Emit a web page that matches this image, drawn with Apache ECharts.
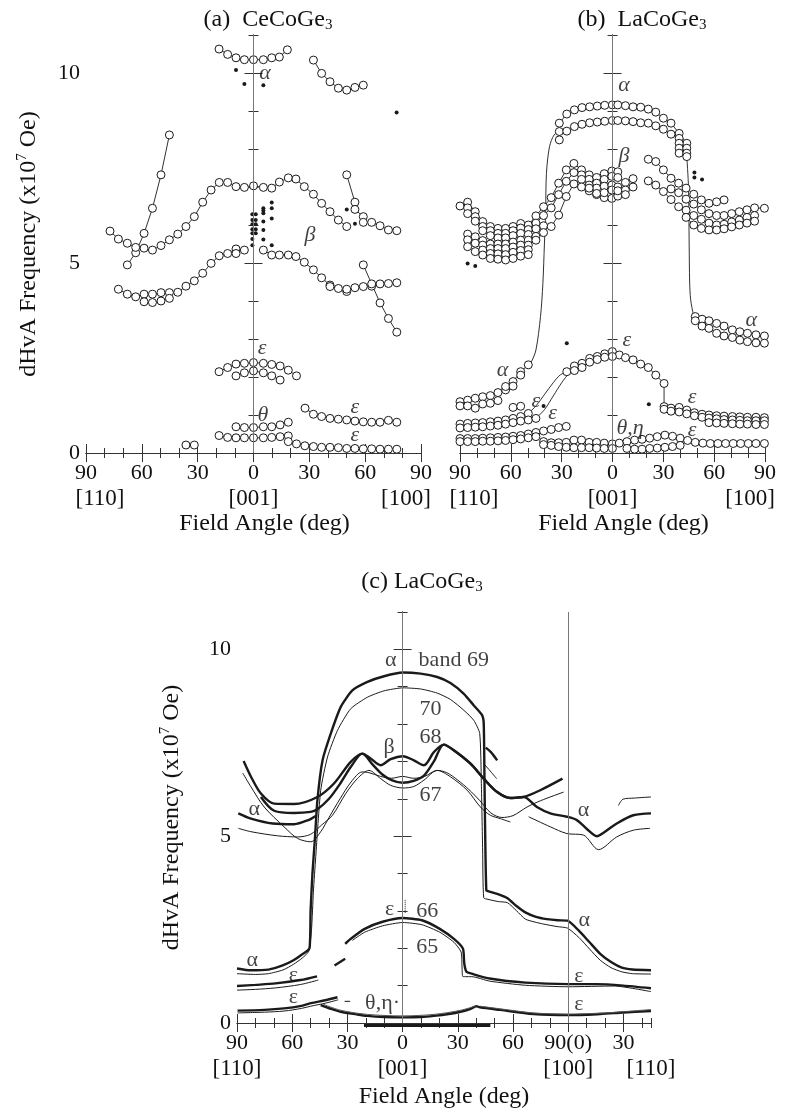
<!DOCTYPE html>
<html><head><meta charset="utf-8">
<script src="https://cdn.jsdelivr.net/npm/echarts@6/dist/echarts.min.js"></script>
<style>html,body{margin:0;padding:0;background:#fff}#c{width:808px;height:1113px}</style>
</head><body><div id="c"></div>
<script>
// ---------------- tick labels ----------------
const abTickVals = [-90,-60,-30,0,30,60,90];
const abTickText = ['90','60','30','0','30','60','90'];
const abDirText  = ['[110]','','','[001]','','','[100]'];
const cTickVals  = [-90,-60,-30,0,30,60,90,120];
const cTickText  = ['90','60','30','0','30','60','90(0)','30'];
const cDirText   = ['[110]','','','[001]','','','[100]',''];
const cEndVals   = [135];
const cEndText   = [' '];
const cEndDir    = ['[110]'];
const yTickVals  = [0,5,10];

// ---------------- panel (a) CeCoGe3 ----------------
const aAlphaTop = [[-18.5,10.63],[-13.9,10.49],[-9.4,10.40],[-4.9,10.35],[0,10.35],[5.3,10.35],[9.8,10.40],[13.9,10.42],[18.2,10.61]];
const aAlphaRight = [[32.2,10.34],[36.6,9.99],[41.1,9.77],[45.6,9.6],[50.1,9.55],[54.5,9.62],[59.0,9.68]];
const aSteep = [[-67.8,4.95],[-63.3,5.27],[-58.8,5.78],[-54.3,6.44],[-49.7,7.32],[-45.2,8.37]];
const aBetaUpper = [[-77.1,5.84],[-72.6,5.63],[-67.8,5.52],[-63.3,5.41],[-58.8,5.39],[-54.3,5.34],[-49.7,5.46],[-45.2,5.61],[-40.7,5.76],[-36.3,5.96],[-31.8,6.22],[-27.3,6.60],[-22.8,6.92],[-18.4,7.12],[-13.9,7.12],[-9.4,7.01],[-4.9,6.99],[0,7.03],[5.3,6.99],[9.8,6.97],[13.9,7.13],[18.7,7.24],[22.8,7.21],[27.3,7.01],[32.2,6.81],[36.6,6.57],[41.1,6.35],[45.6,6.13],[50.1,5.96]];
const aBetaRight = [[50.1,7.32],[54.5,6.60],[54.5,6.41],[59.0,6.22],[59.0,6.07],[63.5,6.07],[68.0,5.98],[72.5,5.87],[77.0,5.85]];
const aBetaLowerL = [[-72.6,4.31],[-67.8,4.18],[-63.3,4.11],[-58.8,4.18],[-54.3,4.18],[-49.7,4.22],[-45.2,4.22],[-40.7,4.23],[-36.3,4.39],[-31.8,4.53],[-27.3,4.73],[-22.8,4.99],[-18.4,5.19],[-13.9,5.25],[-9.4,5.37],[-4.9,5.34]];
const aBetaLower2 = [[-58.8,3.98],[-54.3,3.96],[-49.7,4.0],[-45.2,4.07]];
const aBetaLowerR = [[5.3,5.34],[9.8,5.21],[13.9,5.21],[18.7,5.21],[22.8,5.17],[27.3,5.02],[32.2,4.82],[36.6,4.61],[41.1,4.42],[45.6,4.33],[50.1,4.25],[54.5,4.35],[59.0,4.38],[63.5,4.39],[68.0,4.45],[72.5,4.46],[77.0,4.48]];
const aBetaDesc = [[59.0,4.95],[63.5,4.45],[68.0,3.95],[72.5,3.54],[77.0,3.18]];
const aExtraCircles = [[-9.4,5.25],[41.1,4.38],[50.1,4.31]];
const aDots = [[-9.4,10.08],[-4.9,9.71],[5.3,9.68],[76.9,8.96],[-0.6,6.28],[-0.6,6.13],[-0.6,6.02],[-0.6,5.89],[-0.6,5.78],[-0.6,5.63],[-0.6,5.47],[1.2,6.28],[1.2,6.13],[1.2,6.02],[1.2,5.89],[1.2,5.78],[5.3,6.44],[5.3,6.38],[5.3,6.31],[5.3,6.09],[5.3,5.87],[5.3,5.62],[9.8,6.59],[9.8,6.44],[9.8,6.17],[9.8,5.47],[50.1,6.41],[54.5,6.03]];
const aEpsUpper = [[-18.5,2.14],[-13.9,2.25],[-9.4,2.34],[-4.9,2.36],[0,2.38],[5.3,2.36],[9.8,2.33],[14.3,2.29],[18.7,2.18],[23.1,2.03]];
const aEpsLower = [[-9.4,2.03],[-4.9,2.11],[0,2.16],[5.3,2.11],[9.8,2.03],[14.3,1.92]];
const aThetaUpper = [[-9.4,0.69],[-4.9,0.67],[0,0.67],[5.3,0.69],[9.8,0.69],[14.3,0.74],[18.7,0.81]];
const aThetaLower = [[-18.5,0.46],[-13.9,0.41],[-9.4,0.40],[-4.9,0.40],[0,0.40],[5.3,0.40],[9.8,0.41],[14.3,0.43],[18.7,0.45]];
const aEpsRightUpper = [[27.7,1.18],[32.2,1.02],[36.6,0.96],[41.1,0.91],[45.6,0.89],[50.1,0.87],[54.5,0.84],[59.0,0.82],[63.5,0.81],[68.0,0.81],[72.5,0.86],[77.0,0.81]];
const aEpsRightLower = [[18.7,0.30],[23.1,0.24],[27.6,0.19],[32.2,0.17],[36.6,0.15],[41.1,0.15],[45.6,0.14],[50.1,0.12],[54.5,0.12],[59.0,0.11],[63.5,0.11],[68.0,0.10],[72.5,0.10],[77.0,0.10]];
const aSmallPair = [[-36.3,0.21],[-31.8,0.21]];
const aLabels = [['α',6.2,10.0],['β',30.4,5.74],['ε',4.6,2.76],['θ',5.1,1.0],['ε',54.5,1.21],['ε',54.5,0.47]];

// ---------------- panel (b) LaCoGe3 ----------------
const bAlphaUpper = [[-31.4,8.68],[-27.0,8.92],[-22.5,9.03],[-18.0,9.09],[-13.5,9.11],[-9.0,9.13],[-4.6,9.15],[-0.1,9.16],[3.1,9.16],[7.6,9.14],[12.1,9.11],[16.6,9.10],[21.1,9.05],[25.5,8.97],[30.0,8.81],[34.5,8.68],[39.3,8.41],[43.8,8.15]];
const bAlphaLower = [[-31.4,8.46],[-27.0,8.47],[-22.5,8.59],[-18.0,8.65],[-13.5,8.69],[-9.0,8.71],[-4.6,8.73],[-0.1,8.75],[3.1,8.75],[7.6,8.74],[12.1,8.72],[16.6,8.69],[21.1,8.68],[25.5,8.61],[30.0,8.52],[34.5,8.39],[39.3,8.28]];
const bAlphaStack = [[-31.4,8.24],[39.3,8.15],[39.3,8.02],[39.3,7.89],[43.8,8.02],[43.8,7.89],[43.8,7.80]];
const bAlphaLeft = [[-90,1.35],[-85.5,1.39],[-81.0,1.44],[-76.6,1.48],[-72.1,1.51],[-67.6,1.59],[-63.1,1.66],[-58.7,1.88],[-54.2,2.14],[-49.7,2.32]];
const bAlphaLeft2 = [[-90,1.24],[-85.5,1.24],[-81.0,1.18],[-76.6,1.29],[-72.1,1.31],[-67.6,1.38],[-63.1,1.75],[-58.7,1.76],[-54.2,2.05]];
const bAlphaRiseL = [[-49.7,2.32],[-47.9,2.40],[-45.2,2.71],[-42.5,3.59],[-41.1,4.46],[-40.2,5.5],[-39.5,6.3],[-39.0,7.36],[-37.2,8.06],[-34.5,8.37],[-31.4,8.46]];
const bAlphaDropR = [[43.8,7.80],[44.8,7.0],[45.2,5.5],[45.5,4.5],[46.1,4.03],[47.9,3.62],[48.8,3.59]];
const bAlphaRight1 = [[48.8,3.59],[52.8,3.52],[56.9,3.48],[61.4,3.41],[65.8,3.34],[70.7,3.24],[75.1,3.19],[79.6,3.15],[84.6,3.11],[89.6,3.08]];
const bAlphaRight2 = [[48.8,3.48],[52.8,3.34],[56.9,3.28],[61.4,3.15],[65.8,3.08],[70.7,3.04],[75.1,2.97],[79.6,2.93],[84.6,2.90],[89.6,2.89]];
const bBetaL1 = [[-90,6.5],[-85.5,6.6],[-81,6.35],[-76.6,6.09],[-72.1,5.96],[-67.6,5.91],[-63.1,5.91],[-58.7,5.96],[-54.2,6.04],[-49.7,6.0],[-45.2,6.24],[-40.7,6.48],[-36.2,6.72],[-31.8,7.1],[-27.3,7.45],[-22.8,7.62],[-18.3,7.45],[-13.8,7.32],[-9.4,7.25],[-4.9,7.35],[-0.4,7.42],[3.1,7.4]];
const bBetaL2 = [[-85.5,6.45],[-81,6.22],[-76.6,5.96],[-72.1,5.85],[-67.6,5.78],[-63.1,5.78],[-58.7,5.85],[-54.2,5.92],[-49.7,5.88],[-45.2,6.05],[-40.7,6.25],[-36.2,6.45],[-31.8,6.8],[-27.3,7.15],[-22.8,7.38],[-18.3,7.32],[-13.8,7.2],[-9.4,7.1],[-4.9,7.2],[-0.4,7.28],[3.1,7.25],[7.6,7.12],[12.1,7.22]];
const bBetaL3 = [[-85.5,6.3],[-81,6.1],[-76.6,5.85],[-72.1,5.72],[-67.6,5.66],[-63.1,5.66],[-58.7,5.72],[-54.2,5.78],[-49.7,5.75],[-45.2,5.9],[-40.7,5.98],[-36.2,5.96],[-31.8,6.26],[-27.3,6.75],[-22.8,7.08],[-18.3,7.2],[-13.8,7.05],[-9.4,6.97],[-4.9,7.02],[-0.4,7.05],[3.1,7.0],[7.6,6.92],[12.1,7.0]];
const bBetaL4 = [[-85.5,5.76],[-81,5.69],[-76.6,5.59],[-72.1,5.5],[-67.6,5.5],[-63.1,5.5],[-58.7,5.55],[-54.2,5.6],[-49.7,5.6],[-45.2,5.7],[-40.7,5.8]];
const bBetaL5 = [[-85.5,5.61],[-81,5.52],[-76.6,5.47],[-72.1,5.38],[-67.6,5.38],[-63.1,5.38],[-58.7,5.42],[-54.2,5.47],[-49.7,5.47],[-45.2,5.6]];
const bBetaL6 = [[-85.5,5.43],[-81,5.3],[-76.6,5.34],[-72.1,5.25],[-67.6,5.24],[-63.1,5.22],[-58.7,5.28],[-54.2,5.33],[-49.7,5.35]];
const bBetaL7 = [[-76.6,5.21],[-72.1,5.12],[-67.6,5.1],[-63.1,5.08],[-58.7,5.12],[-54.2,5.18],[-49.7,5.22]];
const bBetaH4 = [[-18.3,7.0],[-13.8,6.9],[-9.4,6.8],[-4.9,6.72],[-0.4,6.7],[3.1,6.76],[7.6,6.8]];
const bBetaH5 = [[-13.8,6.97],[-9.4,6.83],[-4.9,6.85],[-0.4,6.92],[3.1,6.9]];
const bBetaR1 = [[21.1,7.73],[25.5,7.67],[30,7.45],[34.5,7.23],[39,7.10],[43.4,6.97],[47.9,6.81],[52.4,6.66],[56.9,6.57],[61.4,6.61],[65.8,6.66]];
const bBetaR2 = [[34.5,6.95],[39,6.85],[43.4,6.68],[47.9,6.55],[52.4,6.4],[56.9,6.3],[61.4,6.25],[65.8,6.25],[70.3,6.3],[74.8,6.35],[79.3,6.4],[83.8,6.45],[89.6,6.44]];
const bBetaR3 = [[21.1,7.16],[25.5,7.05],[30,6.88],[34.5,6.67],[39,6.48],[43.4,6.39],[47.9,6.25],[52.4,6.15],[56.9,6.05],[61.4,6.0],[65.8,6.02],[70.3,6.08],[74.8,6.13],[79.3,6.2],[83.8,6.25]];
const bBetaR4 = [[43.4,6.2],[47.9,6.0],[52.4,5.91],[56.9,5.87],[61.4,5.87],[65.8,5.9],[70.3,5.95],[74.8,6.0],[79.3,6.05],[83.8,6.1]];
const bDots = [[-85.5,4.99],[-81,4.92],[48.3,7.38],[48.3,7.25],[52.8,7.2],[-27.0,2.89],[-40.7,1.24],[21.4,1.28]];
const bEpsUp = [[-27.0,2.14],[-22.5,2.29],[-18.0,2.36],[-13.5,2.49],[-9.0,2.54],[-4.6,2.61],[-0.1,2.67],[4.0,2.58],[7.6,2.51],[12.1,2.45],[16.6,2.34],[21.1,2.25],[25.5,2.05],[30.4,1.83]];
const bEpsDrop = [[30.4,1.83],[30.4,1.22]];
const bEpsLo = [[-22.5,2.17],[-18.0,2.25],[-13.5,2.39],[-9.0,2.46],[-4.6,2.52],[-0.1,2.54]];
const bEpsR1 = [[30.4,1.22],[34.5,1.18],[39.3,1.20],[43.8,1.13],[48.3,1.06],[52.8,1.02],[56.9,1.0],[61.4,0.98],[65.8,0.97],[70.7,0.96],[75.1,0.95],[79.6,0.94],[84.6,0.94],[89.6,0.93]];
const bEpsR2 = [[30.4,1.15],[34.5,1.1],[39.3,1.08],[43.8,1.03],[48.3,0.98],[52.8,0.94],[56.9,0.92],[61.4,0.9],[65.8,0.88],[70.7,0.87],[75.1,0.86],[79.6,0.85],[84.6,0.85],[89.6,0.85]];
const bEpsR3 = [[56.9,0.8],[61.4,0.79],[65.8,0.78],[70.7,0.77],[75.1,0.76],[79.6,0.76],[84.6,0.75],[89.6,0.75]];
const bEpsL1 = [[-90,0.76],[-85.5,0.78],[-81,0.79],[-76.6,0.8],[-72.1,0.82],[-67.6,0.84],[-63.1,0.87],[-58.7,0.91],[-54.2,0.96],[-49.7,1.04]];
const bEpsL1Link = [[-49.7,1.04],[-45,1.25],[-40,1.55],[-35,1.85],[-31,2.05],[-27,2.14]];
const bEpsL2 = [[-90,0.66],[-85.5,0.67],[-81,0.68],[-76.6,0.69],[-72.1,0.71],[-67.6,0.73],[-63.1,0.76],[-58.7,0.8],[-54.2,0.84],[-49.7,0.87],[-45.2,0.91]];
const bEpsL2Link = [[-45.2,0.91],[-40,1.15],[-35,1.5],[-30,1.85],[-25.5,2.1],[-22.5,2.17]];
const bEpsExtra = [[-58.7,1.2],[-54.2,1.23]];
const bEpsL3 = [[-90,0.38],[-85.5,0.38],[-81,0.38],[-76.6,0.39],[-72.1,0.4],[-67.6,0.41],[-63.1,0.42],[-58.7,0.44],[-54.2,0.46],[-49.7,0.5],[-45.2,0.54],[-40.7,0.58],[-36.2,0.62],[-31.8,0.67],[-27.3,0.7]];
const bEpsL4 = [[-90,0.3],[-85.5,0.3],[-81,0.3],[-76.6,0.31],[-72.1,0.31],[-67.6,0.32],[-63.1,0.33],[-58.7,0.35],[-54.2,0.37],[-49.7,0.4],[-45.2,0.43]];
const bTheta1 = [[-40.7,0.3],[-36.2,0.27],[-31.8,0.27],[-27.3,0.28],[-22.8,0.34],[-18.3,0.34],[-13.8,0.28],[-9.4,0.28],[-4.9,0.26],[-0.1,0.24],[4.0,0.26],[8.5,0.3],[13,0.34],[17.4,0.36],[21.9,0.39],[26.4,0.43],[30.9,0.47],[35.4,0.44],[39.9,0.39],[44.3,0.33],[48.8,0.28],[53.3,0.26],[57.7,0.25],[62.2,0.25],[66.7,0.25],[71.2,0.25],[75.6,0.25],[80.1,0.25],[84.6,0.25],[89.6,0.25]];
const bTheta2 = [[-40.7,0.22],[-36.2,0.2],[-31.8,0.17],[-27.3,0.15],[-22.8,0.14],[-18.3,0.14],[-13.8,0.14],[-9.4,0.13],[-4.9,0.12],[-0.1,0.12]];
const bTheta3 = [[8.5,0.12],[13,0.1],[17.4,0.1],[21.9,0.12],[26.4,0.13],[30.9,0.15],[35.4,0.17],[39.9,0.2]];
const bLabels = [['α',6.7,9.68],['β',6.7,7.8],['α',81.9,3.5],['α',-64.9,2.18],['ε',-45.2,1.35],['ε',-35.4,1.04],['ε',8.5,2.97],['θ,η',10.3,0.65],['ε',47,1.48],['ε',47,0.6]];

// ---------------- panel (c) LaCoGe3 band calculation ----------------
const cAlpha69 = [[-90,1.46],[-82.6,1.41],[-72.9,1.43],[-65.2,1.54],[-59.3,1.68],[-54.5,1.84],[-50.6,2.0],[-50.0,3.0],[-49.0,4.0],[-47.7,4.9],[-46.3,5.96],[-43.5,7.03],[-39,7.75],[-33.6,8.46],[-27.3,8.9],[-19.1,9.13],[-10.1,9.28],[0,9.38],[9.8,9.35],[18.8,9.26],[26,9.1],[33.3,8.81],[38.7,8.5],[43.2,8.24],[44.1,8.01],[44.5,6.5],[44.9,5.0],[45.5,3.55],[46.4,3.53],[52.2,3.44],[57,3.34],[61.9,3.13],[66.7,2.96],[72.5,2.84],[78.4,2.78],[84.2,2.75],[89.6,2.74],[95.8,2.47],[101.6,2.16],[107.4,1.85],[113.3,1.63],[119.1,1.48],[124.9,1.43],[135,1.41]];
const cAlpha70 = [[-90,1.32],[-80,1.3],[-72.9,1.32],[-65,1.42],[-59.3,1.57],[-54.5,1.74],[-51,1.92],[-49.5,2.5],[-48.5,3.5],[-47.2,4.45],[-44.5,6.23],[-40.8,7.12],[-35.4,7.83],[-28.2,8.41],[-19.1,8.72],[-10.1,8.89],[0.2,8.97],[9.8,8.94],[18.8,8.83],[26,8.66],[33.3,8.37],[38.7,8.1],[41.9,7.75],[42.8,6.41],[43.5,4.63],[44.1,3.35],[46.4,3.31],[52,3.25],[57,3.22],[62,3.0],[66.7,2.78],[72,2.7],[76.4,2.65],[84,2.58],[89.6,2.54],[95.8,2.29],[101.6,1.98],[107.4,1.68],[113.3,1.48],[119.1,1.37],[125,1.32],[135,1.31]];
const cBeta68 = [[-86.4,7.01],[-82.4,6.59],[-77,6.14],[-69.8,5.87],[-59,5.86],[-46.3,6.05],[-37.3,6.41],[-28.2,6.99],[-21.9,7.21],[-17.4,7.08],[-11.9,6.9],[-6.5,7.06],[0.2,7.14],[6.1,7.03],[11.6,6.9],[17,7.25],[22.4,7.45],[27.8,7.3],[36.9,6.94],[44.1,6.54],[51.4,6.18],[58.6,6.02],[65.8,6.05],[74.8,6.23],[86.9,6.54]];
const cBand68b = [[-77,6.05],[-69.8,5.68],[-59,5.62],[-50,5.65],[-46.3,5.72],[-40,6.0],[-34,6.4],[-28.2,6.85],[-21.9,7.21],[-16,6.9],[-11,6.65],[-6,6.5],[0,6.43],[6,6.48],[11.6,6.62],[17,7.0],[22.4,7.45],[27.8,7.3],[36.9,6.94],[44.1,6.54],[51.4,6.18],[58.6,6.02],[65.8,6.05],[73,5.78],[80.3,5.61],[89.3,5.52],[94.7,5.43],[100,5.2],[105.6,5.0],[110,5.12],[116.4,5.34],[125.4,5.56],[135,5.61]];
const cAlphaLeft = [[-89.3,5.61],[-82.4,5.47],[-70.6,5.34],[-59,5.32],[-51.3,5.43],[-47,5.55]];
const cThin67 = [[-89.3,5.21],[-82.4,5.12],[-68,5.01],[-57,4.98],[-50,5.05],[-44,5.3],[-38.1,5.56],[-30.9,6.14],[-24.6,6.54],[-18.3,6.76],[-11.9,6.54],[-6.5,6.36],[0.2,6.29],[6.1,6.33],[11.6,6.5],[18.8,6.76],[26,6.59],[35.1,6.23],[42.3,5.78],[47.7,5.56],[53.1,5.47],[58.6,5.38]];
const cThin68 = [[-86.9,6.69],[-82.4,6.32],[-75.2,5.78],[-64.4,5.25],[-57.1,4.94],[-49.9,4.85],[-44.5,5.12],[-40,5.5],[-34,6.0],[-28,6.45],[-22,6.72],[-18.3,6.7],[-12,6.6],[-6,6.55],[0,6.6],[6,6.55],[12,6.6],[18.8,6.76],[24,6.7],[30,6.5],[36,6.25],[42,5.95],[48,5.62],[54,5.5],[60,5.55],[67.6,5.78],[75,5.95],[87.5,6.18]];
const cThinAlphaR = [[68.5,5.52],[80.3,5.25],[89.3,5.07],[98.3,5.03],[106.5,4.64],[116.4,4.98],[125.4,5.16],[134.5,5.21]];
const cThinUpperR = [[117.3,5.82],[119.8,5.99],[126,6.02],[135,6.05]];
const cShortThick = [[45.2,7.37],[48,7.25],[51.4,7.03]];
const cShortThin = [[44.1,6.94],[47,6.78],[51.1,6.54]];
const cEpsLeftThick = [[-90,0.99],[-80,1.02],[-69,1.06],[-55.5,1.15],[-46.5,1.25]];
const cEpsLeftThin = [[-90,0.88],[-80,0.9],[-69,0.94],[-55.5,1.03],[-45.8,1.15]];
const cDash1 = [[-37,1.54],[-31.2,1.72]];
const cEps66 = [[-31.2,2.12],[-28.3,2.25],[-20.6,2.52],[-10.9,2.71],[0,2.81],[10.5,2.75],[20.2,2.52],[27.9,2.25],[32.8,1.99],[33.5,1.6],[34.7,1.37],[37.6,1.32],[47.3,1.19],[66.7,1.08],[90,1.04],[105.5,1.04],[120,1.0],[135,0.93]];
const cEps65 = [[-27.3,2.21],[-20.6,2.43],[-10.9,2.6],[0,2.69],[10.5,2.63],[20.2,2.43],[27.9,2.16],[31.8,1.9],[32.3,1.5],[32.8,1.24],[37.6,1.24],[47.3,1.12],[66.7,1.01],[90,0.97],[115,0.99],[135,0.84]];
const cEpsLowThick = [[-89.7,0.33],[-75,0.35],[-64.4,0.39],[-55,0.46],[-49.9,0.53],[-42,0.61],[-35.4,0.69]];
const cEpsLowThin = [[-89.7,0.27],[-75,0.29],[-64.4,0.32],[-55,0.39],[-49.9,0.45],[-42,0.53],[-35,0.62]];
const cTick = [[-31.5,0.58],[-28.5,0.58]];
const cThetaThick = [[-44.5,0.48],[-39,0.38],[-33.6,0.3],[-25,0.23],[-19.1,0.19],[-10,0.16],[0,0.15],[10,0.16],[17,0.19],[25,0.24],[31.5,0.3],[37,0.38],[40.1,0.45],[42,0.42],[53.1,0.35],[71.2,0.24],[90.2,0.21],[107.4,0.24],[120,0.28],[135,0.32]];
const cThetaThin = [[-43,0.5],[-33.6,0.34],[-19.1,0.23],[0,0.19],[17,0.23],[31.5,0.34],[40,0.46]];
const cThetaThinR = [[42,0.45],[53,0.38],[71,0.27],[90,0.24],[110,0.27],[135,0.36]];
const cBaseBar = [[-21,-0.07],[47.7,-0.07]];
const cEpsMark = [[1.4,2.95],[1.4,3.3]];
const cLabels = [['α',-6.5,9.72],['band 69',27.8,9.71],['70',15.2,8.39],['68',15.2,7.64],['β',-7.4,7.39],['67',15.2,6.1],['α',-80.6,5.71],['α',98.3,5.7],['ε',-7,3.04],['66',13.4,3.0],['65',13.4,2.03],['α',98.7,2.74],['α',-81.7,1.68],['ε',-59.3,1.28],['ε',-59.3,0.68],['θ,η·',-10.9,0.52],['ε',95.8,1.24],['ε',95.8,0.5]];
const refLinesAB = [0];
const refLinesC = [0, 90];

// ---------------- styling / builders ----------------
const F = 'Liberation Serif';
const INK = '#1a1a1a';
const AX = '#333';

function tickFmt(vals, txt, dir, shiftEnds) {
  return function (v) {
    const i = vals.findIndex(u => Math.abs(u - v) < 1e-6);
    if (i < 0) return '';
    let s = '{t|' + txt[i] + '}';
    if (dir[i]) {
      let st = 'd';
      if (shiftEnds && i === 0) st = 'dl';
      if (shiftEnds && i === vals.length - 1) st = 'dr';
      s += '\n{' + st + '|' + dir[i] + '}';
    }
    return s;
  };
}
const labRich = {
  t: {fontFamily: F, fontSize: 22, lineHeight: 25, color: '#111'},
  d: {fontFamily: F, fontSize: 23, lineHeight: 25, color: '#111'},
  dl: {fontFamily: F, fontSize: 23, lineHeight: 25, color: '#111', padding: [0, 0, 0, 28]},
  dr: {fontFamily: F, fontSize: 23, lineHeight: 25, color: '#111', padding: [0, 30, 0, 0]}
};
function xAxes(g, min, max, vals, txt, dir, shiftEnds, nameGap, namePad, endVals, endTxt, endDir) {
  const base = {type: 'value', gridIndex: g, min, max, splitLine: {show: false}};
  const line = {show: true, lineStyle: {color: AX, width: 1}};
  const minorLabel = endVals
    ? {show: true, customValues: endVals, formatter: tickFmt(endVals, endTxt, endDir, false), margin: 8,
       showMinLabel: true, showMaxLabel: true, hideOverlap: false, rich: labRich}
    : {show: false};
  return [
    Object.assign({}, base, {position: 'bottom', axisLine: line,
      axisTick: {show: true, inside: true, length: 9, customValues: vals, lineStyle: {color: AX}},
      axisLabel: {show: true, customValues: vals, formatter: tickFmt(vals, txt, dir, shiftEnds), margin: 8,
        showMinLabel: true, showMaxLabel: true, hideOverlap: false, rich: labRich},
      name: 'Field Angle (deg)', nameLocation: 'middle', nameGap: nameGap,
      nameTextStyle: {fontFamily: F, fontSize: 24, color: '#111', lineHeight: 24, padding: namePad}}),
    Object.assign({}, base, {position: 'bottom', interval: 10, axisLine: {show: false},
      axisTick: {show: true, inside: true, length: 5, lineStyle: {color: AX}}, axisLabel: minorLabel}),
    Object.assign({}, base, {position: 'top', axisLine: line,
      axisTick: {show: true, inside: true, length: 9, customValues: vals, lineStyle: {color: AX}}, axisLabel: {show: false}}),
    Object.assign({}, base, {position: 'top', interval: 10, axisLine: {show: false},
      axisTick: {show: true, inside: true, length: 5, lineStyle: {color: AX}}, axisLabel: {show: false}})
  ];
}
function yAxes(g, showLabels, nameGap) {
  const base = {type: 'value', gridIndex: g, min: 0, max: 11, splitLine: {show: false}};
  const line = {show: true, lineStyle: {color: AX, width: 1}};
  return [
    Object.assign({}, base, {position: 'left', axisLine: line,
      axisTick: {show: true, inside: true, length: 9, customValues: yTickVals, lineStyle: {color: AX}},
      axisLabel: {show: showLabels, customValues: yTickVals, margin: 6, fontFamily: F, fontSize: 22, color: '#111'},
      name: showLabels ? '{n|dHvA Frequency (x10}{s|7}{n| Oe)}' : '', nameLocation: 'middle', nameGap: nameGap, nameRotate: 90,
      nameTextStyle: {rich: {n: {fontFamily: F, fontSize: 24, lineHeight: 27, color: '#111'},
                             s: {fontFamily: F, fontSize: 15, lineHeight: 15, verticalAlign: 'top', color: '#111'}}}}),
    Object.assign({}, base, {position: 'left', interval: 1, axisLine: {show: false},
      axisTick: {show: true, inside: true, length: 5, lineStyle: {color: AX}}, axisLabel: {show: false}}),
    Object.assign({}, base, {position: 'right', axisLine: line,
      axisTick: {show: true, inside: true, length: 9, customValues: yTickVals, lineStyle: {color: AX}}, axisLabel: {show: false}}),
    Object.assign({}, base, {position: 'right', interval: 1, axisLine: {show: false},
      axisTick: {show: true, inside: true, length: 5, lineStyle: {color: AX}}, axisLabel: {show: false}})
  ];
}

const series = [];
function ax(g) { return {xAxisIndex: 4 * g, yAxisIndex: 4 * g}; }
function openLine(data, g, size) {
  series.push(Object.assign({type: 'line', data, symbol: 'circle', symbolSize: size || 8, showSymbol: true,
    itemStyle: {color: '#fff', borderColor: INK, borderWidth: 1}, lineStyle: {color: INK, width: 0.9}, z: 3}, ax(g)));
}
function openPts(data, g, size) {
  series.push(Object.assign({type: 'scatter', data, symbol: 'circle', symbolSize: size || 8,
    itemStyle: {color: '#fff', borderColor: INK, borderWidth: 1, opacity: 1}, z: 4}, ax(g)));
}
function dots(data, g) {
  series.push(Object.assign({type: 'scatter', data, symbol: 'circle', symbolSize: 4,
    itemStyle: {color: INK, opacity: 1}, z: 4}, ax(g)));
}
function curve(data, g, width, smooth, extra) {
  series.push(Object.assign({type: 'line', data, symbol: 'none', smooth: smooth || 0,
    lineStyle: Object.assign({color: INK, width: width}, extra || {}), z: 2}, ax(g)));
}
function texts(list, g, italic, size) {
  series.push(Object.assign({type: 'scatter', symbolSize: 0, z: 6,
    data: list.map(r => ({name: r[0], value: [r[1], r[2]]})),
    label: {show: true, position: 'inside', formatter: '{b}', fontFamily: F, fontSize: size || 22,
      fontStyle: italic ? 'italic' : 'normal', color: '#111'}}, ax(g)));
}
function refLines(vals, g) {
  series.push(Object.assign({type: 'line', data: [], symbol: 'none', z: 1,
    markLine: {silent: true, symbol: ['none', 'none'], label: {show: false}, animation: false,
      lineStyle: {color: '#777', width: 1, type: 'solid'}, data: vals.map(v => ({xAxis: v}))}}, ax(g)));
}

// panel a
refLines(refLinesAB, 0);
[aAlphaTop, aAlphaRight, aSteep, aBetaUpper, aBetaRight, aBetaLowerL, aBetaLower2, aBetaLowerR, aBetaDesc,
 aEpsUpper, aEpsLower, aThetaUpper, aThetaLower, aEpsRightUpper, aEpsRightLower, aSmallPair].forEach(d => openLine(d, 0));
openPts(aExtraCircles, 0);
dots(aDots, 0);
texts(aLabels, 0, true);

// panel b
refLines(refLinesAB, 1);
[bAlphaRiseL, bAlphaDropR, bEpsDrop, bEpsL1Link, bEpsL2Link].forEach(d => curve(d, 1, 0.9, 0.3));
[bAlphaUpper, bAlphaLower, bAlphaLeft, bAlphaRight1, bAlphaRight2,
 bBetaL1, bBetaL2, bBetaL3, bBetaL4, bBetaL5, bBetaL6, bBetaL7, bBetaH4, bBetaH5,
 bBetaR1, bBetaR2, bBetaR3, bBetaR4,
 bEpsUp, bEpsLo, bEpsR1, bEpsR2, bEpsR3, bEpsL1, bEpsL2, bEpsL3, bEpsL4,
 bTheta1, bTheta2, bTheta3].forEach(d => openLine(d, 1));
openPts(bAlphaStack, 1);
openPts(bAlphaLeft2, 1);
openPts(bEpsExtra, 1);
dots(bDots, 1);
texts(bLabels, 1, true);

// panel c
refLines(refLinesC, 2);
const TH = 2.4, TN = 1;
curve(cAlpha69, 2, TH, 0.2);
curve(cAlpha70, 2, TN, 0.2);
curve(cBeta68, 2, TH, 0.3);
curve(cBand68b, 2, TH, 0.3);
curve(cAlphaLeft, 2, TH, 0.3);
curve(cThin67, 2, TN, 0.3);
curve(cThin68, 2, TN, 0.3);
curve(cThinAlphaR, 2, TN, 0.3);
curve(cThinUpperR, 2, TN, 0.3);
curve(cShortThick, 2, TH, 0.3);
curve(cShortThin, 2, TN, 0.3);
curve(cEpsLeftThick, 2, TH, 0.3);
curve(cEpsLeftThin, 2, TN, 0.3);
curve(cDash1, 2, TH, 0);
curve(cEps66, 2, TH, 0.2);
curve(cEps65, 2, TN, 0.2);
curve(cEpsLowThick, 2, TH, 0.3);
curve(cEpsLowThin, 2, TN, 0.3);
curve(cTick, 2, TN, 0);
curve(cThetaThick, 2, TH, 0.3);
curve(cThetaThin, 2, TN, 0.3, {color: '#555'});
curve(cThetaThinR, 2, TN, 0.3, {color: '#555'});
curve(cEpsMark, 2, 1, 0, {type: 'dotted'});
series.push(Object.assign({type: 'line', data: cBaseBar, symbol: 'none', clip: false,
  lineStyle: {color: INK, width: 3}, z: 2}, ax(2)));
texts(cLabels, 2, false);

const titleRich = {
  n: {fontFamily: F, fontSize: 24, fontWeight: 'normal', lineHeight: 26, color: '#111'},
  s: {fontFamily: F, fontSize: 15, fontWeight: 'normal', lineHeight: 15, verticalAlign: 'bottom', color: '#111'}
};
const titleStyle = {fontFamily: F, fontWeight: 'normal', fontSize: 24, color: '#111', rich: titleRich};
const chart = echarts.init(document.getElementById('c'), null, {renderer: 'canvas'});
chart.setOption({
  animation: false,
  backgroundColor: '#fff',
  title: [
    {text: '{n|(a)  CeCoGe}{s|3}', left: 268, top: 7, textAlign: 'center', padding: 0, textStyle: titleStyle},
    {text: '{n|(b)  LaCoGe}{s|3}', left: 642, top: 7, textAlign: 'center', padding: 0, textStyle: titleStyle},
    {text: '{n|(c) LaCoGe}{s|3}', left: 422, top: 569, textAlign: 'center', padding: 0, textStyle: titleStyle}
  ],
  grid: [
    {left: 86, top: 35, width: 335, height: 418},
    {left: 460, top: 35, width: 335, height: 418},
    {left: 237, top: 612, width: 414, height: 411}
  ],
  xAxis: [].concat(
    xAxes(0, -90, 90, abTickVals, abTickText, abDirText, true, 59, [0, 0, 0, 22]),
    xAxes(1, -90, 90, abTickVals, abTickText, abDirText, true, 59, [0, 0, 0, 22]),
    xAxes(2, -90, 135, cTickVals, cTickText, cDirText, false, 62, [0, 0, 0, 0], cEndVals, cEndText, cEndDir)
  ),
  yAxis: [].concat(yAxes(0, true, 44), yAxes(1, false, 44), yAxes(2, true, 52)),
  series: series
});
</script>
</body></html>
